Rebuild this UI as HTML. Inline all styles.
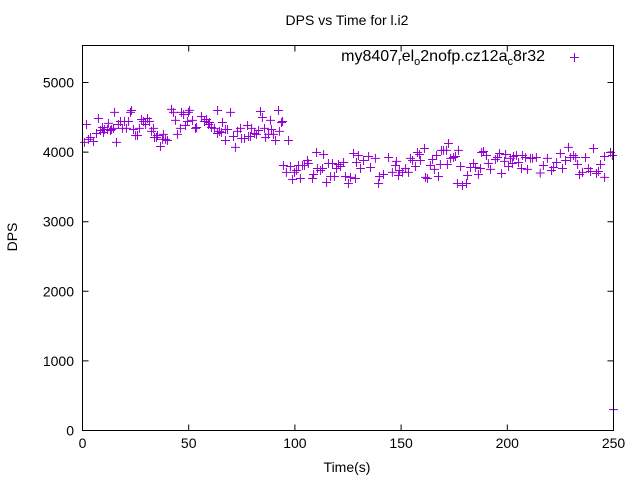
<!DOCTYPE html>
<html><head><meta charset="utf-8"><style>
body{margin:0;background:#fff;}
svg{display:block;font-family:"Liberation Sans",sans-serif;}
</style></head><body>
<svg id="chart" width="640" height="480">
<rect x="0" y="0" width="640" height="480" fill="#fff"/>
<text x="347" y="25" font-size="14" text-anchor="middle">DPS vs Time for l.i2</text>
<text x="347" y="472" font-size="14" text-anchor="middle">Time(s)</text>
<text transform="translate(17,237) rotate(-90)" font-size="14" text-anchor="middle">DPS</text>
<g id="axes"></g>
<g id="points"></g>
<g>
<text x="545" y="61" font-size="16" text-anchor="end">my8407<tspan font-size="11" dy="4">r</tspan><tspan dy="-4">el</tspan><tspan font-size="11" dy="4">o</tspan><tspan dy="-4">2nofp.cz12a</tspan><tspan font-size="11" dy="4">c</tspan><tspan dy="-4">8r32</tspan></text>
<path d="M570 57.5h9M574.5 53v9" stroke="#9400d3" stroke-width="1"/>
</g>
<rect x="82.5" y="45.5" width="531" height="385" fill="none" stroke="#000"/>
</svg>
<script>
const times=[0.9,1.9,2.8,3.8,5.2,6.6,7.5,8.5,9.4,9.9,10.4,11.8,12.2,13.2,13.7,14.6,15.1,16.0,16.9,17.9,18.8,19.8,20.7,21.7,22.6,23.1,24.0,25.0,25.9,26.8,27.8,28.7,29.7,30.6,31.5,32.5,33.4,33.9,34.8,35.3,36.7,37.7,38.1,39.1,40.0,41.9,42.8,43.8,44.7,46.1,46.6,47.6,48.5,49.4,50.4,49.9,51.8,53.2,53.7,56.0,57.4,58.4,59.3,59.8,60.7,62.1,63.6,63.6,64.5,65.4,65.9,67.3,67.3,68.3,69.7,71.1,72.0,73.0,74.4,74.9,76.3,77.7,78.2,79.1,79.6,81.0,81.9,82.9,83.8,84.7,85.7,86.2,87.6,88.5,89.0,89.9,90.9,92.3,92.7,93.7,94.2,97.0,94.6,96.0,97.9,98.9,99.8,100.8,101.7,102.6,103.6,104.5,105.9,106.3,108.3,108.8,110.2,110.6,112.1,113.0,113.5,114.9,115.8,116.8,117.7,118.6,119.6,120.5,121.5,122.9,123.8,125.2,126.2,127.6,128.5,129.0,129.9,130.9,132.3,134.7,135.6,137.9,139.4,139.8,141.7,144.1,145.9,147.4,147.8,148.8,149.2,150.7,152.1,153.5,154.4,155.4,156.8,157.7,158.7,159.1,161.0,161.5,162.4,163.8,164.8,165.7,166.7,167.6,168.5,169.0,170.0,171.4,171.8,172.3,173.3,174.7,175.6,177.0,178.0,176.5,178.9,180.8,181.3,182.7,184.1,185.0,186.4,187.4,187.9,188.8,190.2,191.1,192.1,194.4,195.4,196.3,197.3,198.7,199.2,200.6,201.5,202.4,202.9,204.3,205.3,206.7,207.2,208.6,209.5,210.9,211.9,213.7,215.5,217.0,218.9,220.8,221.8,223.2,225.0,226.0,227.4,228.8,229.8,231.2,232.2,233.1,234.0,235.4,236.8,238.2,239.2,240.6,242.0,242.9,243.9,245.8,245.8,248.6,249.5,250];
const dps=[4139,4397,4182,4210,4153,4268,4483,4311,4354,4282,4325,4325,4412,4311,4325,4340,4570,4139,4397,4440,4340,4440,4340,4440,4570,4598,4325,4239,4239,4340,4469,4440,4397,4483,4440,4297,4340,4210,4210,4239,4081,4182,4254,4182,4167,4613,4570,4455,4254,4340,4570,4541,4383,4440,4600,4570,4455,4340,4354,4512,4440,4469,4397,4426,4354,4340,4268,4598,4297,4282,4426,4325,4167,4325,4570,4225,4067,4297,4340,4196,4196,4383,4225,4225,4340,4268,4254,4311,4584,4498,4340,4210,4254,4455,4325,4254,4167,4598,4297,4426,4440,4167,3808,3708,3794,3607,3708,3736,3808,3621,3808,3808,3880,3837,3621,3679,3995,3765,3736,3765,3966,3564,3837,3650,3837,3650,3765,3822,3794,3851,3650,3549,3636,3980,3621,3851,3952,3765,3880,3937,3779,3909,3549,3650,3679,3923,3708,3808,3866,3664,3736,3708,3765,3708,3909,3880,3794,3995,3966,3880,4052,3636,3621,3808,3894,3751,3952,3650,3822,4024,4024,4024,3822,4124,3909,3923,3937,4024,3794,3549,3521,3549,3664,3779,3837,3779,3679,3765,3995,4009,3952,3837,3751,3894,3923,3980,3693,3866,3966,3794,3909,3837,3937,3952,3851,3765,3952,3923,3751,3909,3909,3923,3700,3808,3909,3736,3779,3851,3980,3765,3880,4067,3923,3952,3923,3822,3679,3708,3923,3765,3722,4052,3693,3722,3822,3937,3636,3995,3952,300];
const xTicks=[0,50,100,150,200,250];
const yTicks=[0,1000,2000,3000,4000,5000];
const NS="http://www.w3.org/2000/svg";
const xs=t=>82.5+t*531/250;
const ys=v=>430.5-v*0.0696;
const axes=document.getElementById('axes');
const pts=document.getElementById('points');
function mk(tag,attrs,parent){const e=document.createElementNS(NS,tag);for(const k in attrs)e.setAttribute(k,attrs[k]);parent.appendChild(e);return e;}
xTicks.forEach(t=>{
  const x=xs(t);
  const l=mk('path',{d:`M${x} 430.5v-6M${x} 45.5v6`,stroke:'#000'},axes);
  
  
  const tx=mk('text',{x:x,y:448,'font-size':14,'text-anchor':'middle'},axes);
  tx.textContent=t;
  
  
});
yTicks.forEach(v=>{
  const y=ys(v);
  const l=mk('path',{d:`M82.5 ${y}h6M613.5 ${y}h-6`,stroke:'#000'},axes);
  
  
  const tx=mk('text',{x:74,y:y+5,'font-size':14,'text-anchor':'end'},axes);
  tx.textContent=v;
  
  
});
times.forEach((t,i)=>{
  const x=xs(t),y=ys(dps[i]);
  const p=mk('path',{d:`M${x-4.5} ${y}h9M${x} ${y-4.5}v9`,stroke:'#9400d3','stroke-width':1},pts);
  
  
});
</script>
</body></html>
